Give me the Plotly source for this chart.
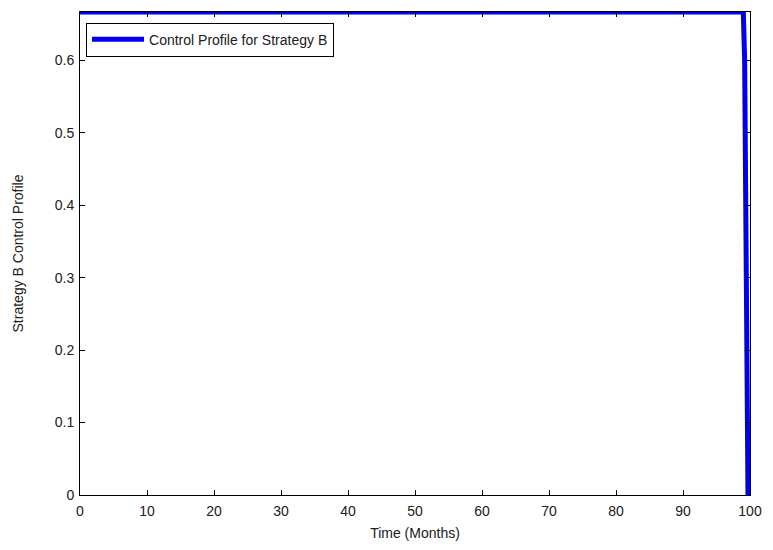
import plotly.graph_objects as go

# Control profile for strategy B: held at the upper bound, switched off at the end
time_months = [0, 99.0, 99.2, 99.35, 99.5, 99.6, 99.7]
control_b = [0.6667, 0.6667, 0.6, 0.42, 0.25, 0.08, 0.0]

x_ticks = [0, 10, 20, 30, 40, 50, 60, 70, 80, 90, 100]
y_ticks = [0, 0.1, 0.2, 0.3, 0.4, 0.5, 0.6]
y_tick_text = ["0", "0.1", "0.2", "0.3", "0.4", "0.5", "0.6"]

font = dict(family="Liberation Sans, Arial, sans-serif", size=14, color="#202020")

fig = go.Figure()
fig.add_trace(go.Scatter(
    x=time_months, y=control_b, mode="lines",
    line=dict(color="rgb(0,0,235)", width=5),
    name="Control Profile for Strategy B",
))

axis_common = dict(
    showgrid=False, zeroline=False, showline=True, linecolor="black", linewidth=1,
    mirror="ticks", ticks="inside", ticklen=5, tickcolor="black",
    tickfont=font,
)

fig.update_layout(
    width=773, height=550,
    margin=dict(l=80, r=18, t=11, b=55),
    paper_bgcolor="white", plot_bgcolor="white",
    font=font,
    showlegend=True,
    legend=dict(
        x=0.009, y=0.978, xanchor="left", yanchor="top",
        bordercolor="black", borderwidth=1, bgcolor="white",
        font=font, itemwidth=52,
    ),
    xaxis=dict(
        range=[0, 100], tickvals=x_ticks, ticklabelstandoff=3,
        title=dict(text="Time (Months)", font=font, standoff=10),
        **axis_common,
    ),
    yaxis=dict(
        range=[0, 0.6667], tickvals=y_ticks, ticktext=y_tick_text,
        ticklabelstandoff=2,
        title=dict(text="Strategy B Control Profile", font=font, standoff=27),
        **axis_common,
    ),
)

fig.write_html("out.html")
